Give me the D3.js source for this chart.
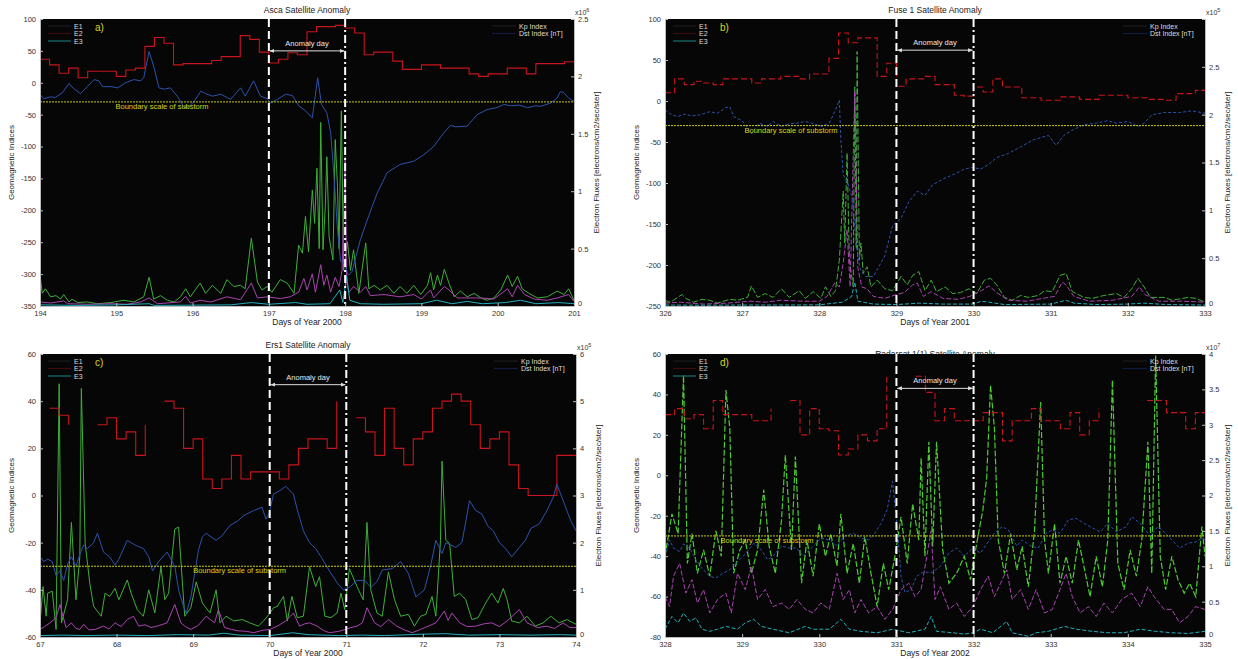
<!DOCTYPE html>
<html>
<head>
<meta charset="utf-8">
<script src="https://cdn.jsdelivr.net/npm/d3@7"></script>
<style>
body { margin: 0; background: #fff; }
text { font-family: "Liberation Sans", Arial, sans-serif; }
.axis text { font-size: 7.5px; fill: #333; }
.axis path, .axis line { stroke: #bbb; }
</style>
</head>
<body>
<svg id="fig" width="1238" height="659"></svg>
<script>
// =============================================================================
// data (Kp*10 every 3 h, Dst [nT], electron fluxes E1..E3 on right axis)
// =============================================================================

// a) Asca, days 194-201 of 2000 ===============================================
var kpA = [37,28,15,23,8,18,18,18, 10,20,23,57,71,62,28,30, 30,30,35,41,41,74,68,48,
    31,37,47,44,80,88,88,90, 86,78,44,48,48,34,21,21, 28,28,23,23,23,14,10,14,
    14,23,23,14,30,30,30,33, 33];
var dstA = [[194.00,-18],[194.05,-25],[194.14,-22],[194.2,-23],[194.29,-16],[194.38,-1],[194.44,-9],
    [194.53,-17],[194.62,-6],[194.71,5],[194.77,3],[194.82,-6],[194.93,-6],[195.02,-8],[195.12,0],
    [195.23,5],[195.32,3],[195.36,8],[195.43,49],[195.49,26],[195.56,-8],[195.63,-10],[195.71,-8],
    [195.8,-21],[195.89,-39],[195.95,-38],[196.02,-29],[196.11,-13],[196.17,-17],[196.26,-21],
    [196.37,-18],[196.5,-26],[196.63,-8],[196.69,-21],[196.8,3],[196.89,-21],[196.98,-25],
    [197.02,-32],[197.11,-26],[197.22,-18],[197.31,-20],[197.39,-36],[197.48,-44],[197.57,-55],
    [197.64,8],[197.69,-34],[197.76,-47],[197.81,-78],[197.85,-140],[197.9,-230],[197.94,-280],
    [197.99,-283],[198.04,-302],[198.09,-296],[198.2,-246],[198.29,-215],[198.42,-173],[198.55,-141],
    [198.72,-128],[198.9,-123],[199.03,-113],[199.16,-100],[199.29,-79],[199.38,-67],[199.45,-69],
    [199.6,-68],[199.73,-50],[199.86,-42],[199.99,-39],[200.08,-34],[200.17,-36],[200.28,-35],
    [200.39,-39],[200.5,-36],[200.56,-37],[200.69,-32],[200.78,-24],[200.82,-14],[200.86,-15],
    [200.93,-24],[201,-29]];
var e1A = [[194.00,0.27],[194.03,0.11],[194.07,0.15],[194.14,0.08],[194.21,0.09],[194.27,0.06],[194.31,0.1],
    [194.38,0.035],[194.42,0.06],[194.49,0.03],[194.62,0.035],[194.75,0.02],[194.93,0.03],[195.1,0.05],
    [195.23,0.035],[195.36,0.08],[195.43,0.25],[195.49,0.06],[195.58,0.09],[195.67,0.05],[195.76,0.035],
    [195.84,0.08],[195.91,0.15],[195.97,0.08],[196.1,0.2],[196.17,0.11],[196.26,0.18],[196.37,0.11],
    [196.45,0.23],[196.54,0.17],[196.63,0.18],[196.69,0.15],[196.77,0.59],[196.85,0.21],[196.91,0.14],
    [196.98,0.17],[197.04,0.12],[197.15,0.23],[197.24,0.2],[197.33,0.11],[197.39,0.53],[197.44,0.46],
    [197.48,0.78],[197.52,0.47],[197.57,1.01],[197.6,0.72],[197.63,1.2],[197.66,0.5],[197.68,1.6],
    [197.71,0.49],[197.74,0.87],[197.76,1.3],[197.79,0.6],[197.84,0.4],[197.87,1.45],[197.9,1.04],
    [197.92,0.5],[197.95,1.7],[197.98,0.31],[198.03,0.56],[198.07,0.31],[198.11,0.49],[198.18,0.11],
    [198.22,0.31],[198.27,0.55],[198.31,0.15],[198.38,0.18],[198.46,0.14],[198.55,0.18],[198.64,0.11],
    [198.72,0.17],[198.81,0.11],[198.9,0.18],[198.99,0.1],[199.08,0.18],[199.12,0.29],[199.16,0.14],
    [199.21,0.27],[199.25,0.18],[199.3,0.32],[199.36,0.2],[199.43,0.08],[199.51,0.13],[199.6,0.08],
    [199.69,0.11],[199.78,0.07],[199.86,0.05],[199.95,0.07],[200.04,0.14],[200.13,0.27],[200.19,0.17],
    [200.26,0.26],[200.32,0.15],[200.41,0.11],[200.52,0.07],[200.65,0.08],[200.78,0.13],[200.87,0.1],
    [200.93,0.15],[201,0.05]];
var e2A = [[194.0,0.035],[194.14,0.026],[194.31,0.044],[194.36,0.02],[194.62,0.015],[194.93,0.02],[195.14,0.015],
    [195.32,0.035],[195.43,0.07],[195.54,0.02],[195.84,0.035],[195.91,0.085],[195.97,0.026],[196.1,0.05],
    [196.24,0.035],[196.45,0.08],[196.63,0.055],[196.77,0.2],[196.85,0.07],[196.98,0.08],[197.15,0.065],
    [197.28,0.08],[197.39,0.12],[197.46,0.24],[197.5,0.14],[197.57,0.28],[197.61,0.12],[197.68,0.36],
    [197.72,0.18],[197.76,0.27],[197.81,0.12],[197.87,0.25],[197.92,0.17],[197.96,0.31],[198.0,1.3],
    [198.02,0.2],[198.05,0.12],[198.11,0.17],[198.2,0.12],[198.27,0.17],[198.33,0.09],[198.51,0.1],
    [198.72,0.08],[198.9,0.1],[199.0,0.06],[199.12,0.14],[199.16,0.07],[199.3,0.17],[199.36,0.14],
    [199.47,0.07],[199.78,0.07],[199.95,0.06],[200.13,0.15],[200.19,0.08],[200.26,0.18],[200.35,0.1],
    [200.48,0.06],[200.65,0.05],[200.78,0.07],[200.93,0.1],[201,0.04]];
var e3A = [[194,0.01],[194.5,0.005],[195,0.01],[195.43,0.02],[195.5,0.005],[196.5,0.01],[196.77,0.03],
    [197,0.015],[197.35,0.03],[197.5,0.015],[197.8,0.02],[197.93,0.14],[197.97,0.03],[198.02,0.26],
    [198.06,0.05],[198.2,0.02],[198.5,0.015],[199,0.02],[199.2,0.05],[199.4,0.02],[199.6,0.04],
    [199.8,0.02],[200.1,0.03],[200.3,0.05],[200.5,0.02],[200.8,0.03],[201,0.02]];

// b) Fuse 1, days 326-333 of 2001 =============================================
var kpB = [10,27,20,24,22,20,27,27, 27,22,27,27,30,30,27,33, 33,52,83,71,77,77,30,46,
    18,27,27,30,20,20,7,6, 17,11,27,17,17,4,4,1, 1,5,5,2,2,7,7,7,
    4,4,2,2,1,9,9,13, 13];
var dstB = [[326.0,-11],[326.09,-17],[326.17,-19],[326.24,-16],[326.35,-18],[326.45,-17],[326.58,-13],
    [326.68,-15],[326.79,-8],[326.84,-7],[326.89,-19],[327.0,-24],[327.12,-40],[327.22,-27],[327.33,-31],
    [327.4,-25],[327.51,-31],[327.61,-28],[327.71,-27],[327.82,-25],[327.9,-27],[328.03,-31],[328.13,-27],
    [328.21,-11],[328.26,1],[328.28,-48],[328.31,-90],[328.37,-100],[328.43,-120],[328.48,-176],
    [328.53,-205],[328.6,-214],[328.7,-214],[328.85,-189],[328.95,-152],[329.06,-143],[329.16,-123],
    [329.27,-110],[329.37,-115],[329.47,-102],[329.63,-94],[329.78,-88],[329.88,-83],[329.99,-81],
    [330.09,-83],[330.2,-77],[330.3,-69],[330.45,-64],[330.61,-56],[330.76,-48],[330.89,-44],
    [330.97,-42],[331.07,-54],[331.17,-42],[331.27,-36],[331.43,-29],[331.59,-27],[331.74,-24],
    [331.85,-27],[332.0,-25],[332.13,-31],[332.21,-27],[332.31,-17],[332.47,-14],[332.67,-14],
    [332.83,-12],[332.95,-14],[333,-15]];
var e1B = [[326.0,0.06],[326.06,0.04],[326.11,0.06],[326.22,0.12],[326.27,0.08],[326.37,0.04],[326.48,0.07],
    [326.58,0.06],[326.68,0.03],[326.84,0.07],[326.94,0.06],[327.07,0.09],[327.12,0.21],[327.2,0.09],
    [327.3,0.13],[327.4,0.09],[327.51,0.18],[327.61,0.09],[327.74,0.16],[327.82,0.08],[327.92,0.15],
    [328.02,0.08],[328.08,0.2],[328.15,0.1],[328.21,0.16],[328.26,0.48],[328.31,1.2],[328.33,0.66],
    [328.36,1.6],[328.39,0.48],[328.44,0.2],[328.46,2.29],[328.48,0.6],[328.49,2.66],[328.52,0.48],
    [328.54,0.66],[328.57,0.34],[328.62,0.41],[328.67,0.2],[328.75,0.27],[328.85,0.18],[328.95,0.16],
    [329.06,0.31],[329.14,0.22],[329.21,0.32],[329.29,0.36],[329.37,0.16],[329.45,0.27],[329.52,0.15],
    [329.63,0.2],[329.73,0.13],[329.83,0.14],[329.94,0.18],[330.04,0.13],[330.14,0.27],[330.22,0.29],
    [330.3,0.22],[330.4,0.09],[330.5,0.06],[330.61,0.11],[330.71,0.09],[330.84,0.11],[330.92,0.16],
    [331.02,0.15],[331.12,0.32],[331.2,0.34],[331.28,0.15],[331.43,0.09],[331.54,0.08],[331.69,0.11],
    [331.85,0.13],[331.95,0.09],[332.05,0.18],[332.13,0.29],[332.21,0.2],[332.29,0.09],[332.47,0.09],
    [332.57,0.06],[332.78,0.09],[332.88,0.08],[333.0,0.04]];
var e2B = [[326,0.03],[326.2,0.04],[326.5,0.02],[326.8,0.03],[327.1,0.05],[327.3,0.04],[327.5,0.06],
    [327.8,0.05],[328.0,0.05],[328.1,0.1],[328.2,0.24],[328.26,0.2],[328.31,0.45],[328.36,0.8],[328.4,0.2],
    [328.46,2.25],[328.5,0.4],[328.55,0.2],[328.62,0.18],[328.7,0.1],[328.85,0.08],[329.0,0.12],
    [329.1,0.14],[329.21,0.22],[329.27,0.24],[329.35,0.1],[329.45,0.15],[329.6,0.08],[329.8,0.07],
    [329.95,0.1],[330.1,0.16],[330.2,0.21],[330.3,0.14],[330.45,0.06],[330.7,0.05],[330.9,0.08],
    [331.05,0.1],[331.15,0.25],[331.2,0.22],[331.3,0.1],[331.5,0.05],[331.8,0.06],[332.05,0.1],
    [332.15,0.2],[332.22,0.12],[332.4,0.05],[332.7,0.05],[333,0.04]];
var e3B = [[326,0.01],[326.5,0.008],[327,0.01],[327.5,0.01],[328,0.012],[328.3,0.04],[328.42,0.1],
    [328.46,0.25],[328.5,0.05],[328.7,0.02],[329,0.015],[329.3,0.03],[329.6,0.02],[330,0.02],[330.1,0.05],
    [330.2,0.04],[330.4,0.015],[331,0.02],[331.2,0.06],[331.3,0.03],[331.6,0.015],[332,0.02],[332.2,0.03],
    [332.5,0.015],[333,0.01]];

// c) Ers1, days 67-74 of 2000 =================================================
var kpC = [null,37,34,30,null,null,30,33, 24,27,17,30,null,40,37,20, 24,7,3,7,17,7,10,10,
    10,7,13,20,24,24,20,40, null,33,27,17,37,20,13,24, 27,37,40,43,40,30,20,24,
    27,13,3,0,0,0,17,17, 17];
var dstC = [[67.00,-26],[67.05,-28],[67.10,-27],[67.16,-28],[67.21,-34],[67.26,-32],[67.31,-36],[67.36,-29],
    [67.41,-26],[67.47,-30],[67.52,-25],[67.57,-21],[67.62,-22.5],[67.70,-20],[67.75,-16],[67.83,-24],
    [67.91,-26],[67.98,-29.5],[68.03,-27],[68.14,-19],[68.24,-21],[68.35,-22.5],[68.42,-26],[68.47,-32],
    [68.55,-28],[68.66,-24],[68.76,-30],[68.81,-40],[68.86,-45.6],[68.91,-50],[68.97,-43],[69.02,-33],
    [69.07,-23],[69.12,-17.6],[69.17,-16],[69.30,-19],[69.38,-17],[69.48,-12.7],[69.59,-10.6],
    [69.66,-8.5],[69.79,-6.4],[69.90,-5],[69.95,-10],[69.99,-7.8],[70.05,0.6],[70.13,2],[70.21,3.9],
    [70.31,0.6],[70.36,-6],[70.44,-15],[70.52,-20],[70.60,-22.5],[70.67,-26],[70.78,-32],[70.88,-37],
    [70.96,-40],[71.04,-39],[71.14,-36],[71.24,-36],[71.32,-39],[71.40,-36.5],[71.47,-31.6],[71.60,-31],
    [71.71,-28],[71.81,-33],[71.91,-43],[72.02,-40],[72.10,-30],[72.17,-19],[72.25,-24.6],[72.30,-20],
    [72.43,-22],[72.51,-20],[72.61,-2.2],[72.69,-6.4],[72.77,-7.8],[72.85,-13],[72.92,-15],[73.00,-20],
    [73.08,-22.5],[73.16,-26],[73.26,-22],[73.34,-19],[73.41,-14],[73.52,-12],[73.62,-6.4],[73.70,-1],
    [73.75,4.8],[73.83,-2],[73.93,-10.6],[74,-15]];
var e1C = [[67.0,0.3],[67.04,1.07],[67.08,0.44],[67.1,0.93],[67.16,0.97],[67.21,0.16],[67.25,5.37],
    [67.28,0.3],[67.36,0.79],[67.41,2.43],[67.47,0.79],[67.52,1.7],[67.54,5.27],[67.59,1.98],[67.65,1.14],
    [67.7,0.65],[67.8,0.44],[67.85,0.93],[67.91,0.86],[67.98,1.03],[68.03,0.79],[68.14,1.21],[68.19,0.93],
    [68.27,0.58],[68.35,0.44],[68.42,1.0],[68.5,0.51],[68.58,1.49],[68.63,0.79],[68.68,0.93],[68.76,2.29],
    [68.81,2.33],[68.89,0.44],[68.97,0.62],[69.04,1.17],[69.12,0.72],[69.22,0.51],[69.3,1.0],[69.35,0.3],
    [69.43,0.44],[69.53,0.34],[69.64,0.37],[69.74,0.3],[69.85,0.23],[69.92,0.34],[69.99,0.48],[70.05,0.62],
    [70.1,0.65],[70.18,0.86],[70.23,0.34],[70.29,0.86],[70.36,0.41],[70.44,0.44],[70.52,1.49],[70.6,1.07],
    [70.65,1.28],[70.72,0.44],[70.8,0.41],[70.88,0.51],[70.93,0.93],[70.98,0.58],[71.04,1.45],[71.14,1.07],
    [71.22,0.79],[71.27,2.43],[71.32,1.0],[71.4,0.51],[71.47,0.44],[71.55,1.38],[71.63,0.79],[71.71,0.44],
    [71.81,0.48],[71.89,0.23],[71.97,0.44],[72.04,0.48],[72.12,0.86],[72.17,0.44],[72.23,2.05],[72.25,3.73],
    [72.3,2.05],[72.35,1.98],[72.41,0.86],[72.48,0.93],[72.56,0.79],[72.64,0.37],[72.72,0.41],[72.82,0.72],
    [72.9,0.93],[72.98,0.72],[73.05,1.03],[73.1,0.79],[73.16,0.34],[73.26,0.3],[73.36,0.44],[73.47,0.23],
    [73.57,0.3],[73.67,0.44],[73.78,0.3],[73.88,0.37],[74.0,0.27]];
var e2C = [[67.0,0.16],[67.06,0.22],[67.13,0.3],[67.21,0.41],[67.26,0.69],[67.34,0.2],[67.41,0.3],[67.47,0.18],
    [67.52,0.16],[67.57,0.27],[67.64,0.15],[67.72,0.16],[67.83,0.23],[67.9,0.17],[67.98,0.3],[68.06,0.22],
    [68.14,0.37],[68.22,0.44],[68.29,0.23],[68.37,0.26],[68.45,0.2],[68.55,0.24],[68.66,0.3],[68.76,0.69],
    [68.84,0.3],[68.9,0.22],[68.97,0.16],[69.07,0.25],[69.17,0.44],[69.28,0.3],[69.33,0.58],[69.41,0.2],
    [69.5,0.16],[69.59,0.13],[69.7,0.12],[69.79,0.09],[69.9,0.14],[70.0,0.16],[70.1,0.23],[70.21,0.34],
    [70.31,0.51],[70.39,0.23],[70.46,0.28],[70.52,0.3],[70.62,0.23],[70.7,0.14],[70.78,0.09],[70.9,0.12],
    [70.99,0.16],[71.06,0.2],[71.14,0.23],[71.21,0.3],[71.27,0.62],[71.37,0.3],[71.45,0.22],[71.55,0.37],
    [71.66,0.23],[71.76,0.15],[71.86,0.09],[71.97,0.16],[72.07,0.23],[72.17,0.3],[72.28,0.55],[72.33,0.35],
    [72.38,0.51],[72.48,0.3],[72.58,0.22],[72.69,0.23],[72.8,0.28],[72.9,0.3],[73.0,0.22],[73.1,0.34],
    [73.26,0.58],[73.36,0.3],[73.5,0.2],[73.62,0.23],[73.72,0.18],[73.83,0.3],[73.92,0.2],[74.0,0.2]];
var e3C = [[67,0.03],[67.3,0.04],[67.6,0.03],[68,0.04],[68.4,0.03],[68.8,0.05],[69.2,0.04],[69.4,0.08],
    [69.6,0.04],[70,0.03],[70.3,0.09],[70.5,0.05],[70.9,0.03],[71.2,0.04],[71.5,0.03],[72,0.06],[72.3,0.07],
    [72.6,0.04],[73,0.05],[73.4,0.04],[73.8,0.05],[74,0.04]];

// d) days 328-335 of 2002 =====================================================
var kpD = [30,33,28,30,23,37,30,30, 30,27,27,33,null,37,20,33, 23,22,10,13,20,17,23,50,
    null,null,49,41,27,33,27,27, 27,31,31,17,27,27,33,27, 27,23,31,20,27,33,null,null,
    null,null,37,37,31,31,23,31, 31];
var dstD = [[328.0,-40],[328.06,-32],[328.11,-36],[328.19,-37.7],[328.24,-34],[328.32,-36],[328.4,-41.8],
    [328.48,-46],[328.58,-50],[328.66,-50.8],[328.73,-49],[328.84,-46.7],[328.94,-42.6],[329.04,-39],
    [329.15,-33.6],[329.25,-37],[329.33,-41.8],[329.4,-40],[329.51,-35],[329.61,-36],[329.71,-36],
    [329.79,-40],[329.87,-37],[329.95,-34],[330.02,-31],[330.13,-32],[330.23,-35],[330.33,-30],
    [330.44,-28.7],[330.54,-31],[330.64,-32],[330.72,-28.7],[330.8,-23.8],[330.88,-17],[330.95,-3],
    [331.01,-25.4],[331.06,-50],[331.11,-58],[331.19,-56.6],[331.26,-50],[331.34,-48],[331.47,-48],
    [331.57,-45],[331.68,-38.5],[331.78,-36],[331.88,-40],[331.99,-36],[332.09,-38.5],[332.17,-34],
    [332.27,-28.7],[332.37,-25.4],[332.45,-27],[332.56,-35],[332.63,-32],[332.74,-35],[332.84,-36],
    [332.94,-28.7],[333.02,-27],[333.12,-28.7],[333.23,-22],[333.33,-21.3],[333.43,-23.8],[333.54,-26],
    [333.64,-28],[333.74,-23.8],[333.85,-28],[333.98,-25.4],[334.05,-20.5],[334.16,-23.8],[334.29,-30],
    [334.39,-25.4],[334.47,-28],[334.57,-32],[334.67,-36],[334.78,-33.6],[334.88,-33],[334.96,-31],[335,-32]];
var e1D = [[328.0,1.14],[328.09,1.74],[328.17,1.46],[328.24,3.7],[328.29,1.04],[328.35,1.46],[328.42,0.9],
    [328.5,1.23],[328.58,0.86],[328.66,1.5],[328.73,1.14],[328.79,3.49],[328.84,2.95],[328.89,0.9],
    [328.97,1.23],[329.04,1.37],[329.12,0.9],[329.2,1.23],[329.28,2.08],[329.35,1.28],[329.43,0.9],
    [329.51,1.65],[329.56,2.57],[329.64,1.23],[329.69,2.55],[329.77,0.76],[329.84,1.37],[329.92,0.86],
    [330.0,1.6],[330.08,1.14],[330.15,1.46],[330.23,1.0],[330.28,1.74],[330.36,0.9],[330.44,1.32],
    [330.52,0.76],[330.59,1.42],[330.67,0.9],[330.75,0.43],[330.83,1.04],[330.9,0.67],[330.98,1.14],
    [331.06,1.7],[331.14,1.04],[331.21,1.88],[331.29,1.37],[331.32,2.53],[331.37,1.14],[331.42,2.76],
    [331.47,1.28],[331.52,2.76],[331.6,1.23],[331.68,0.76],[331.78,0.9],[331.88,1.14],[331.96,0.81],
    [332.04,1.32],[332.12,1.79],[332.17,2.25],[332.22,3.56],[332.27,2.95],[332.32,1.37],[332.4,0.9],
    [332.48,1.46],[332.56,0.95],[332.63,1.28],[332.71,0.71],[332.79,1.5],[332.87,3.32],[332.92,1.37],
    [332.97,0.9],[333.05,1.6],[333.12,0.76],[333.2,1.14],[333.28,0.76],[333.36,1.37],[333.43,1.0],
    [333.51,0.57],[333.59,1.14],[333.67,0.71],[333.74,1.37],[333.8,3.63],[333.87,1.04],[333.95,0.67],
    [334.03,1.23],[334.11,0.86],[334.18,1.37],[334.26,2.76],[334.31,0.9],[334.36,3.98],[334.42,1.14],
    [334.49,0.67],[334.57,1.14],[334.65,0.81],[334.73,0.62],[334.8,0.76],[334.88,0.57],[334.96,1.56],
    [335.0,1.14]];
var e2D = [[328.0,0.57],[328.06,0.43],[328.11,0.86],[328.19,1.04],[328.27,0.62],[328.35,0.81],[328.42,0.48],
    [328.5,0.67],[328.58,0.34],[328.68,0.53],[328.79,0.62],[328.86,0.34],[328.94,0.9],[329.04,0.67],
    [329.12,1.0],[329.2,0.53],[329.3,0.67],[329.4,0.43],[329.51,0.48],[329.61,0.39],[329.71,0.53],
    [329.82,0.39],[329.92,0.34],[330.02,0.48],[330.13,0.39],[330.23,0.9],[330.31,0.53],[330.39,0.67],
    [330.46,0.34],[330.54,0.53],[330.64,0.34],[330.75,0.43],[330.85,0.25],[330.95,0.39],[331.06,0.67],
    [331.16,0.76],[331.24,0.57],[331.32,0.67],[331.45,1.5],[331.5,0.53],[331.57,0.71],[331.68,0.39],
    [331.78,0.48],[331.88,0.29],[331.99,0.43],[332.09,0.67],[332.19,0.86],[332.27,0.57],[332.35,0.76],
    [332.43,0.95],[332.5,0.53],[332.61,0.67],[332.71,0.39],[332.81,0.67],[332.92,0.34],[333.02,0.39],
    [333.12,0.67],[333.2,0.9],[333.28,0.57],[333.38,0.34],[333.49,0.43],[333.59,0.29],[333.69,0.48],
    [333.8,0.34],[333.92,0.53],[334.05,0.62],[334.16,0.43],[334.26,0.71],[334.34,0.57],[334.47,0.39],
    [334.57,0.39],[334.67,0.2],[334.78,0.29],[334.88,0.43],[335.0,0.39]];
var e3D = [[328.0,0.11],[328.09,0.29],[328.17,0.2],[328.24,0.34],[328.32,0.22],[328.4,0.27],[328.48,0.11],
    [328.58,0.08],[328.68,0.11],[328.79,0.15],[328.94,0.11],[329.04,0.2],[329.15,0.25],[329.25,0.15],
    [329.4,0.11],[329.61,0.06],[329.82,0.15],[329.92,0.11],[330.13,0.11],[330.28,0.25],[330.39,0.11],
    [330.54,0.08],[330.75,0.06],[330.95,0.11],[331.16,0.06],[331.37,0.11],[331.45,0.29],[331.52,0.08],
    [331.73,0.06],[331.88,0.04],[331.99,0.06],[332.09,0.11],[332.25,0.06],[332.43,0.22],[332.5,0.06],
    [332.71,0.01],[332.81,0.06],[332.97,0.08],[333.18,0.15],[333.33,0.11],[333.54,0.08],[333.74,0.06],
    [333.95,0.06],[334.16,0.11],[334.36,0.08],[334.57,0.06],[334.78,0.05],[335.0,0.08]];

// =============================================================================
// panels
// =============================================================================
var panels = [
    { letter: "a)", title: "Asca Satellite Anomaly", xLabel: "Days of Year 2000", left: 40, top: 19, w: 534, h: 287,
      days: [194, 201], geo: [-350, 100], geoStep: 50, flux: [0, 2.5], fluxStep: 0.5, exp: "6",
      anomaly: [197, 198], arrowAt: 50, boundaryAt: 194.99, titleY: -6,
      kp: kpA, dst: dstA, e1: e1A, e2: e2A, e3: e3A, dashed: false },
    { letter: "b)", title: "Fuse 1 Satellite Anomaly", xLabel: "Days of Year 2001", left: 665, top: 19, w: 540, h: 287,
      days: [326, 333], geo: [-250, 100], geoStep: 50, flux: [0, 3], fluxMaxTick: 2.5, fluxStep: 0.5, exp: "5",
      anomaly: [329, 330], arrowAt: 62, boundaryAt: 327.03, titleY: -6,
      kp: kpB, dst: dstB, e1: e1B, e2: e2B, e3: e3B, dashed: true },
    { letter: "c)", title: "Ers1 Satellite Anomaly", xLabel: "Days of Year 2000", left: 40, top: 354, w: 536, h: 283,
      days: [67, 74], geo: [-60, 60], geoStep: 20, flux: [0, 6], fluxStep: 1, exp: "5",
      anomaly: [70, 71], arrowAt: 47, boundaryAt: 69.0, titleY: -6,
      kp: kpC, dst: dstC, e1: e1C, e2: e2C, e3: e3C, dashed: false },
    { letter: "d)", title: "Radarsat 1(1) Satellite Anomaly", xLabel: "Days of Year 2002", left: 665, top: 354, w: 540, h: 283,
      days: [328, 335], geo: [-80, 60], geoStep: 20, flux: [0, 4], fluxStep: 0.5, exp: "7",
      anomaly: [331, 332], arrowAt: 43, boundaryAt: 328.72, titleY: 3,
      kp: kpD, dst: dstD, e1: e1D, e2: e2D, e3: e3D, dashed: true }
];

var svg = d3.select("#fig");

var defs = svg.append("defs");
defs.append("marker")
    .attr("id", "arrowHead")
    .attr("viewBox", "0 0 10 10")
    .attr("refX", 9).attr("refY", 5)
    .attr("markerWidth", 5).attr("markerHeight", 5)
    .attr("orient", "auto-start-reverse")
    .append("path")
    .attr("d", "M0,1 L10,5 L0,9 z")
    .attr("fill", "#ddd");

function plain(d) { return String(d); }

panels.forEach(function (p, pi) {

    var g = svg.append("g").attr("transform", "translate(" + p.left + "," + p.top + ")");

    var x = d3.scaleLinear().domain(p.days).range([0, p.w]);
    var y = d3.scaleLinear().domain(p.geo).range([p.h, 0]);
    var yR = d3.scaleLinear().domain(p.flux).range([p.h, 0]);

    // title first, so the plot area may cover it (panel d)
    g.append("text")
        .attr("x", p.w / 2).attr("y", p.titleY)
        .attr("text-anchor", "middle")
        .attr("font-size", "8.5px").attr("fill", "#222")
        .text(p.title);

    g.append("rect")
        .attr("width", p.w).attr("height", p.h)
        .attr("fill", "#060606");

    defs.append("clipPath").attr("id", "clip" + pi)
        .append("rect").attr("width", p.w).attr("height", p.h);

    var plot = g.append("g").attr("clip-path", "url(#clip" + pi + ")");

    var fluxLine = d3.line()
        .x(function (d) { return x(d[0]); })
        .y(function (d) { return yR(d[1]); });

    var geoLine = d3.line()
        .x(function (d) { return x(d[0]); })
        .y(function (d) { return y(d[1]); });

    var kpPts = p.kp.map(function (v, i) { return [p.days[0] + i / 8, v]; });
    var kpLine = d3.line()
        .defined(function (d) { return d[1] !== null; })
        .x(function (d) { return x(d[0]); })
        .y(function (d) { return y(d[1]); })
        .curve(d3.curveStepAfter);

    // electron fluxes
    plot.append("path").datum(p.e1).attr("d", fluxLine)
        .attr("fill", "none")
        .attr("stroke", pi == 3 ? "#4ccc32" : "#3fae3a")
        .attr("stroke-width", pi == 3 ? 1.2 : 1)
        .attr("stroke-dasharray", p.dashed ? "6,2" : null);
    plot.append("path").datum(p.e2).attr("d", fluxLine)
        .attr("fill", "none").attr("stroke", "#a844b0").attr("stroke-width", 1)
        .attr("stroke-dasharray", p.dashed ? "5,2" : null);
    plot.append("path").datum(p.e3).attr("d", fluxLine)
        .attr("fill", "none").attr("stroke", "#22aebc").attr("stroke-width", 1)
        .attr("stroke-dasharray", p.dashed ? "4,2" : null);

    // geomagnetic indices
    plot.append("path").datum(kpPts).attr("d", kpLine)
        .attr("fill", "none").attr("stroke", "#c8141c").attr("stroke-width", 1.1)
        .attr("stroke-dasharray", p.dashed ? "6,3" : null);
    plot.append("path").datum(p.dst).attr("d", geoLine)
        .attr("fill", "none").attr("stroke", "#2c52aa").attr("stroke-width", 1)
        .attr("stroke-dasharray", p.dashed ? "3,2" : null);

    // substorm boundary
    plot.append("line")
        .attr("x1", 0).attr("x2", p.w)
        .attr("y1", y(-30)).attr("y2", y(-30))
        .attr("stroke", "#cccc10").attr("stroke-width", 1)
        .attr("stroke-dasharray", "2,1");
    plot.append("text")
        .attr("x", x(p.boundaryAt)).attr("y", y(-30) + 7)
        .attr("font-size", "7.5px").attr("fill", "#d6d618")
        .text("Boundary scale of substorm");

    // anomaly day
    p.anomaly.forEach(function (day, k) {
        plot.append("line")
            .attr("x1", x(day)).attr("x2", x(day))
            .attr("y1", 0).attr("y2", p.h)
            .attr("stroke", "#fff").attr("stroke-width", 2)
            .attr("stroke-dasharray", k == 0 ? "8,4" : "8,3,2,3");
    });
    plot.append("line")
        .attr("x1", x(p.anomaly[0]) + 1).attr("x2", x(p.anomaly[1]) - 1)
        .attr("y1", y(p.arrowAt)).attr("y2", y(p.arrowAt))
        .attr("stroke", "#ddd").attr("stroke-width", 1)
        .attr("marker-start", "url(#arrowHead)")
        .attr("marker-end", "url(#arrowHead)");
    plot.append("text")
        .attr("x", (x(p.anomaly[0]) + x(p.anomaly[1])) / 2)
        .attr("y", y(p.arrowAt) - 5)
        .attr("text-anchor", "middle")
        .attr("font-size", "7.5px").attr("fill", "#e8e8e8")
        .text("Anomaly day");

    // legends
    var leftLegend = [["E1", "#1c1c1c"], ["E2", "#3c0c0e"], ["E3", "#177272"]];
    leftLegend.forEach(function (d, i) {
        g.append("line")
            .attr("x1", 8).attr("x2", 31)
            .attr("y1", 7 + i * 7.5).attr("y2", 7 + i * 7.5)
            .attr("stroke", d[1]).attr("stroke-width", 1.2);
        g.append("text")
            .attr("x", 34).attr("y", 9.5 + i * 7.5)
            .attr("font-size", "7px").attr("fill", "#ddd")
            .text(d[0]);
    });
    g.append("text")
        .attr("x", 55).attr("y", 12)
        .attr("font-size", "10px").attr("fill", "#d8d820")
        .text(p.letter);

    var rightLegend = [["Kp Index", "#1c1c1c"], ["Dst Index [nT]", "#121b42"]];
    rightLegend.forEach(function (d, i) {
        g.append("line")
            .attr("x1", p.w - 82).attr("x2", p.w - 58)
            .attr("y1", 7 + i * 7.5).attr("y2", 7 + i * 7.5)
            .attr("stroke", d[1]).attr("stroke-width", 1.2);
        g.append("text")
            .attr("x", p.w - 55).attr("y", 9.5 + i * 7.5)
            .attr("font-size", "7px").attr("fill", "#ddd")
            .text(d[0]);
    });

    // axes
    var geoTicks = d3.range(p.geo[0], p.geo[1] + 0.001, p.geoStep);
    var fluxTicks = d3.range(0, (p.fluxMaxTick || p.flux[1]) + 0.001, p.fluxStep);
    var dayTicks = d3.range(p.days[0], p.days[1] + 1);

    g.append("g").attr("class", "axis")
        .attr("transform", "translate(0," + p.h + ")")
        .call(d3.axisBottom(x).tickValues(dayTicks).tickSize(-3).tickPadding(5).tickFormat(plain));
    g.append("g").attr("class", "axis")
        .call(d3.axisLeft(y).tickValues(geoTicks).tickSize(-3).tickPadding(4).tickFormat(plain));
    var rightAxis = g.append("g").attr("class", "axis")
        .attr("transform", "translate(" + p.w + ",0)")
        .call(d3.axisRight(yR).tickValues(fluxTicks).tickSize(-3).tickPadding(4).tickFormat(plain));
    // lift the zero label a little off the day labels
    rightAxis.selectAll(".tick text").filter(function (d) { return d === 0; }).attr("dy", "-0.1em");

    var expText = g.append("text")
        .attr("x", p.w + 1).attr("y", -4)
        .attr("font-size", "7px").attr("fill", "#333")
        .text("x10");
    expText.append("tspan").attr("dy", -3).attr("font-size", "5.5px").text(p.exp);

    g.append("text")
        .attr("x", p.w / 2).attr("y", p.h + 19)
        .attr("text-anchor", "middle")
        .attr("font-size", "8.5px").attr("fill", "#222")
        .text(p.xLabel);
    g.append("text")
        .attr("transform", "translate(-26," + (p.h / 2) + ") rotate(-90)")
        .attr("text-anchor", "middle")
        .attr("font-size", "8px").attr("fill", "#222")
        .text("Geomagnetic Indices");
    g.append("text")
        .attr("transform", "translate(" + (p.w + 25) + "," + (p.h / 2) + ") rotate(-90)")
        .attr("text-anchor", "middle")
        .attr("font-size", "8px").attr("fill", "#222")
        .text("Electron Fluxes [electrons/cm2/sec/ster]");
});
</script>
</body>
</html>
